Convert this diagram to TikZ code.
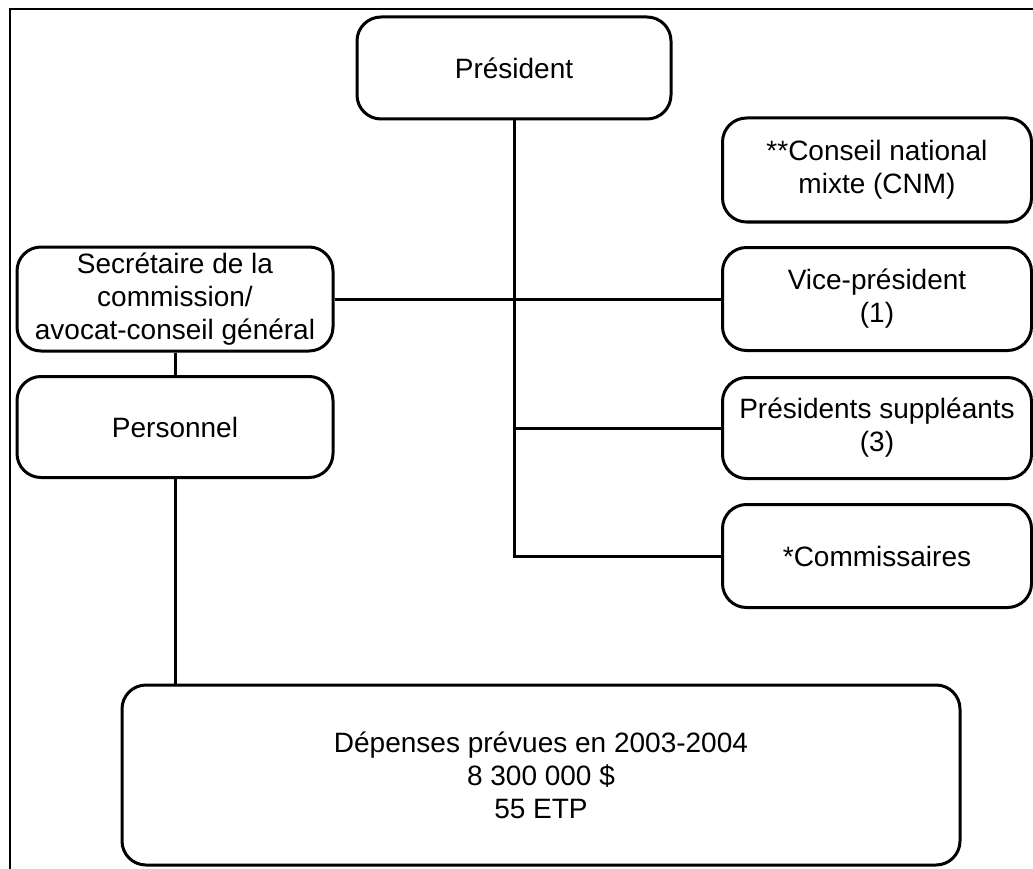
\documentclass[tikz,border=0pt]{standalone}
\usepackage{fontspec}
\setmainfont{Liberation Sans}
\begin{document}
\begin{tikzpicture}[x=1pt,y=-1pt,
        orgbox/.style={draw, line width=3pt, rounded corners=24pt, align=center,
            inner sep=0pt, font=\fontsize{28}{33}\selectfont},
        link/.style={line width=3pt}]
        \useasboundingbox (0,0) rectangle (1033,869);

        % Frame
        \draw[line width=2.4pt] (10,869) -- (10,9) -- (1033,9);

        % Boxes
        \node[orgbox, minimum width=314pt, minimum height=102pt] (pres) at (514,68) {Président};
        \node[orgbox, minimum width=309pt, minimum height=104pt] (cnm) at (877,170) {**Conseil national\\mixte (CNM)};
        \node[orgbox, minimum width=309pt, minimum height=103pt] (vp) at (877,299) {Vice-président\\(1)};
        \node[orgbox, minimum width=309pt, minimum height=101pt] (ps) at (877,428) {Présidents suppléants\\(3)};
        \node[orgbox, minimum width=309pt, minimum height=103pt] (com) at (877,556) {*Commissaires};
        \node[orgbox, minimum width=316pt, minimum height=104pt] (sec) at (175,299) {Secrétaire de la\\commission/\\avocat-conseil général};
        \node[orgbox, minimum width=316pt, minimum height=101pt] (pers) at (175,427) {Personnel};
        \node[orgbox, minimum width=838pt, minimum height=180pt] (dep) at (541,775) {Dépenses prévues en 2003-2004\\8 300 000 \$\\55 ETP};

        % Links
        \draw[link] (pres.south) |- (com.west);
        \draw[link] (ps.west) -- (ps.west -| pres.south);
        \draw[link] (sec.east) -- (vp.west);
        \draw[link] (sec.south) -- (pers.north);
        \draw[link] (pers.south) -- (pers.south |- dep.north);
\end{tikzpicture}
\end{document}
